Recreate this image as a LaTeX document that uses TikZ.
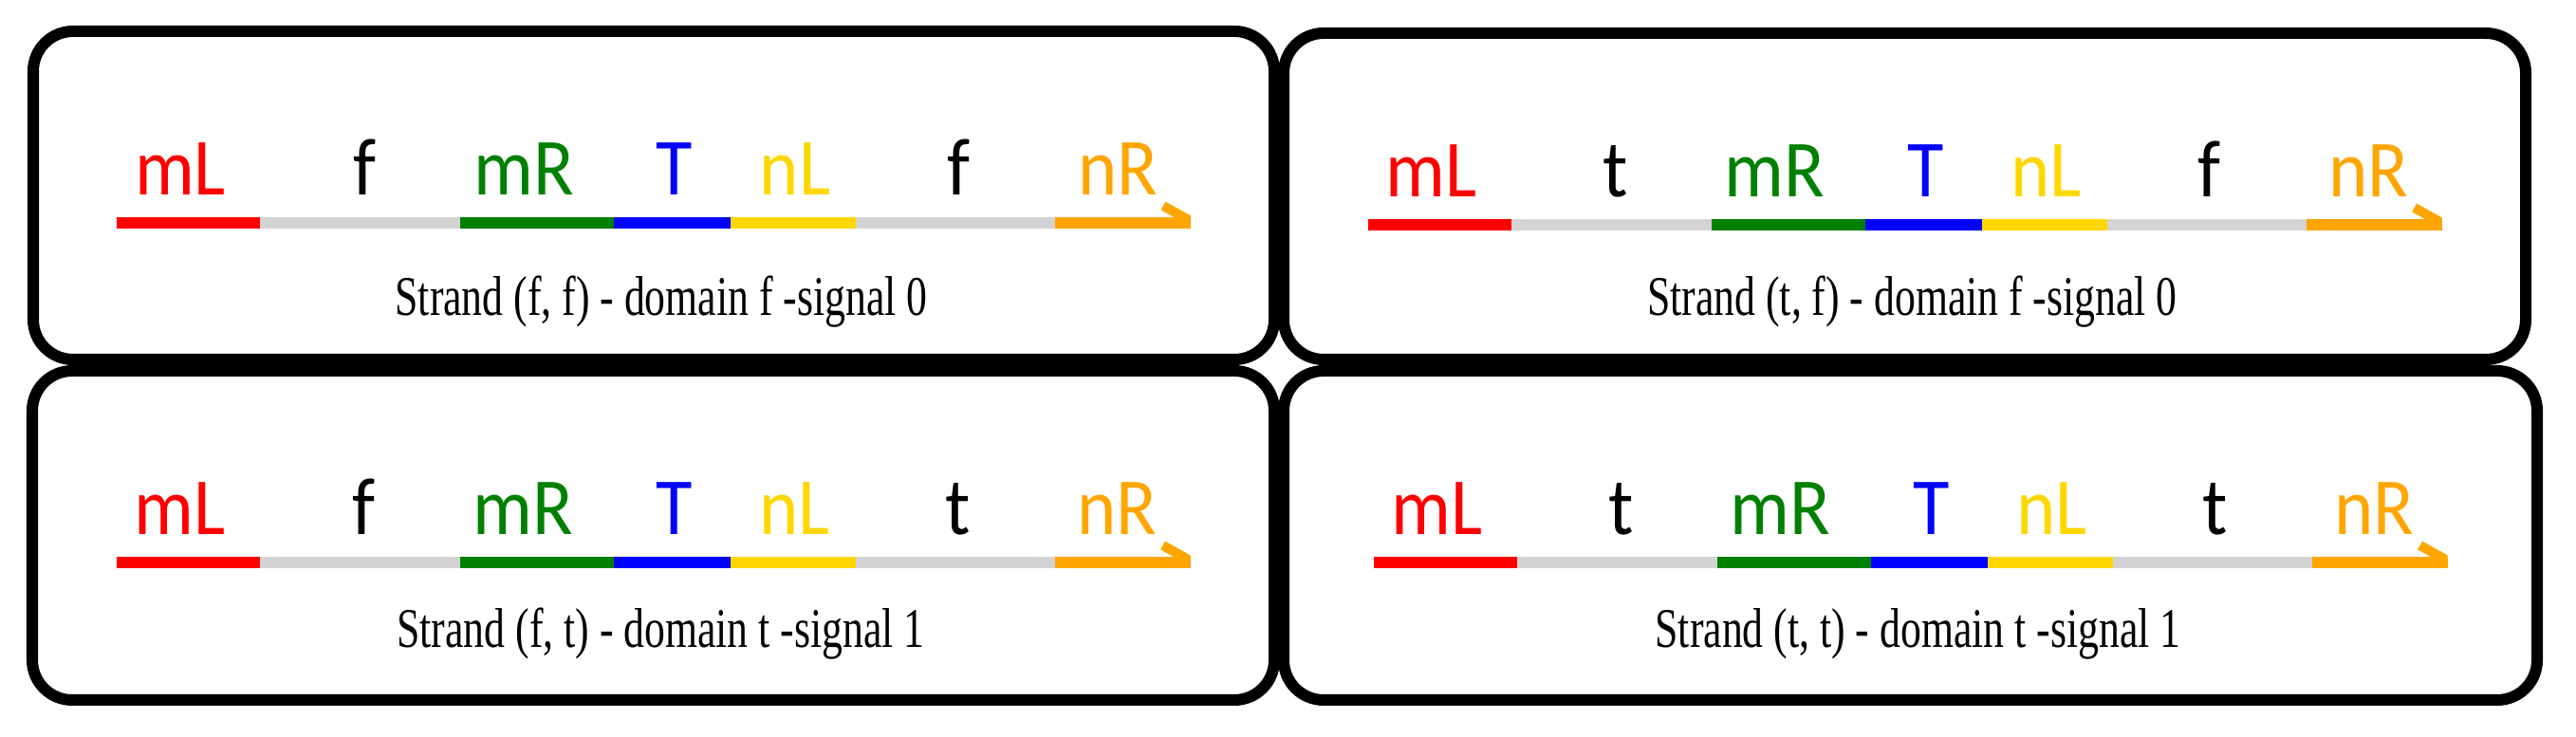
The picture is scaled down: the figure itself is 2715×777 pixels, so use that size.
\documentclass[tikz,border=0pt]{standalone}
\usepackage{fontspec}
\newfontfamily\lblfont[FakeStretch=0.92]{Carlito}
\newfontfamily\capfont[FakeStretch=0.74]{Liberation Serif}
\definecolor{dgrey}{RGB}{211,211,211}
\definecolor{dgreen}{RGB}{0,128,0}
\definecolor{dgold}{RGB}{255,215,0}
\definecolor{dorange}{RGB}{255,165,0}
\begin{document}
\begin{tikzpicture}[x=0.01cm,y=-0.01cm]
  \useasboundingbox (0,0) rectangle (2715,777);
  \foreach \lx/\rx/\ty/\by/\cy/\a/\b/\s [count=\i] in
      {35/1343/33/379/300/f/f/0, 1353/2662/35/379/298/t/f/0,
       34/1343/391/738/292/f/t/1, 1353/2674/391/738/292/t/t/1} {
    \pgfmathsetmacro{\sx}{(\lx+\rx)/2-566}
    \pgfmathsetmacro{\sy}{\ty+202}
    % box
    \draw[line width=0.12cm, rounded corners=0.42cm] (\lx,\ty) rectangle (\rx,\by);
    % strand
    \foreach \p/\q/\c/\tc/\t/\o [count=\j] in
        {0/151/red/red/mL/67, 151/362/dgrey/black/\a/261,
         362/524/dgreen/dgreen/mR/429, 524/647/blue/blue/T/588,
         647/779/dgold/dgold/nL/715, 779/989/dgrey/black/\b/887,
         989/1132/dorange/dorange/nR/1055} {
      \draw[\c, line width=0.12cm] (\sx+\p,\sy) -- (\sx+\q,\sy);
      \node[anchor=base, inner sep=0pt, text=\tc, font=\lblfont\fontsize{24.3}{28}\selectfont]
        (lab\i-\j) at (\sx+\o,\sy-29) {\t};
    }
    \draw[dorange, line width=0.1cm] (\sx+1130,\sy-3) -- (\sx+1103,\sy-18);
    % caption
    \node[anchor=base, inner sep=0pt, font=\capfont\fontsize{16.8}{19}\selectfont]
      (cap\i) at (\lx/2+\rx/2+8,\ty+\cy) {Strand (\a, \b) - domain \b\ -signal \s};
  }
\end{tikzpicture}
\end{document}
